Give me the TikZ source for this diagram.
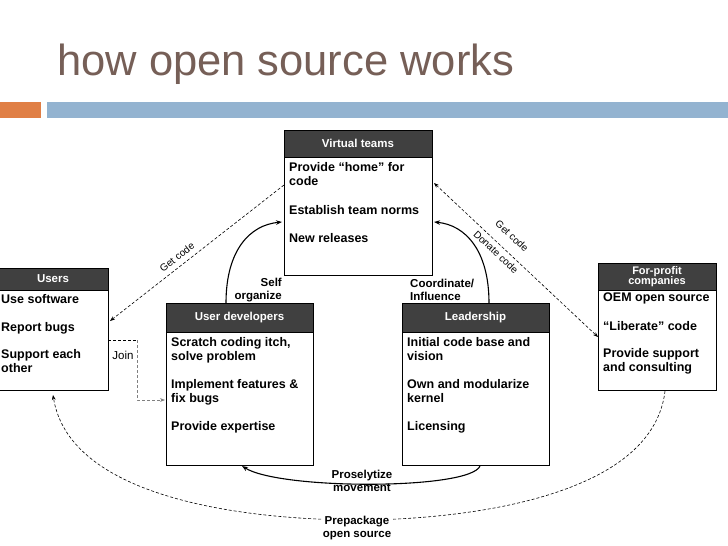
\documentclass[tikz,border=0pt]{standalone}
\usepackage{fontspec}
\setmainfont{Liberation Sans}
\usetikzlibrary{arrows.meta}
\definecolor{titlec}{HTML}{765F57}
\definecolor{hdr}{HTML}{404040}
\definecolor{barblue}{HTML}{93B3D0}
\definecolor{barorange}{HTML}{E07F45}
\begin{document}
\begin{tikzpicture}[x=1pt,y=-1pt,
  box/.style={draw=black,line width=0.8pt,fill=white},
  head/.style={fill=hdr,draw=black,line width=0.8pt},
  htext/.style={text=white,font=\bfseries\fontsize{11.5}{12}\selectfont,align=center,inner sep=0pt},
  item/.style={anchor=north west,font=\bfseries\fontsize{12.5}{14.5}\selectfont,align=left,inner sep=0pt},
  lab/.style={font=\bfseries\fontsize{11.5}{13}\selectfont,inner sep=0pt,align=center},
  rlab/.style={font=\fontsize{10}{11}\selectfont,inner sep=0pt},
  dsh/.style={dashed,dash pattern=on 3pt off 2pt,line width=0.6pt,-{Stealth[length=5pt]}},
  sol/.style={line width=1.1pt,-{Stealth[length=6pt]}}]
\useasboundingbox (0,0) rectangle (728,546);
\fill[white] (0,0) rectangle (728,546);
\node[anchor=base west,text=titlec,font=\fontsize{43.5}{45}\selectfont,inner sep=0pt] (title) at (57,75) {how open source works};
\fill[barorange] (0,102) rectangle (41,118);
\fill[barblue] (47,102) rectangle (728,118);
% boxes
\draw[box] (284,130) rectangle (432,275); \draw[head] (284,130) rectangle (432,157);
\node[htext] (vth) at (358,143.5) {Virtual teams};
\node[item] (vt1) at (289,162) {Provide “home” for\\code};
\node[item] (vt2) at (289,205) {Establish team norms};
\node[item] (vt3) at (289,233) {New releases};

\draw[box] (-1,268) rectangle (108,390); \draw[head] (-1,268) rectangle (108,290);
\node[htext] (uh) at (53,279) {Users};
\node[item] (u1) at (1,294) {Use software};
\node[item] (u2) at (1,322) {Report bugs};
\node[item] (u3) at (1,349) {Support each\\other};

\draw[box] (166,303) rectangle (313,465); \draw[head] (166,303) rectangle (313,332);
\node[htext] (udh) at (239.5,317.5) {User developers};
\node[item] (ud1) at (171,337) {Scratch coding itch,\\solve problem};
\node[item] (ud2) at (171,379) {Implement features \&\\fix bugs};
\node[item] (ud3) at (171,421) {Provide expertise};

\draw[box] (402,303) rectangle (549,465); \draw[head] (402,303) rectangle (549,332);
\node[htext] (lh) at (475.5,317.5) {Leadership};
\node[item] (l1) at (407,337) {Initial code base and\\vision};
\node[item] (l2) at (407,379) {Own and modularize\\kernel};
\node[item] (l3) at (407,421) {Licensing};

\draw[box] (598,263) rectangle (716,390); \draw[head] (598,263) rectangle (716,290);
\node[htext,font=\bfseries\fontsize{11}{10.5}\selectfont] (fh) at (657,276.5) {For-profit\\companies};
\node[item] (f1) at (603,293) {OEM open source};
\node[item] (f2) at (603,321) {“Liberate” code};
\node[item] (f3) at (603,348) {Provide support\\and consulting};

% connectors
\coordinate (vtL) at (284,185); \coordinate (uR) at (110,321);
\draw[dsh] (vtL) -- (uR);
\node[rlab,rotate=38] (gc1) at (177,257) {Get code};

\coordinate (udT) at (226,303); \coordinate (vtL2) at (282,222);
\draw[sol] (udT) .. controls (226,250) and (250,225) .. (vtL2);
\node[lab,align=right,anchor=east] (so) at (282,290) {Self\\organize};

\coordinate (lT) at (489,303); \coordinate (vtR2) at (434,222);
\draw[sol] (lT) .. controls (489,250) and (465,225) .. (vtR2);
\node[lab,align=left,anchor=west] (ci) at (410,290) {Coordinate/\\Influence};

\coordinate (vtR) at (434,183); \coordinate (fL) at (598,337);
\draw[dsh,{Stealth[length=5pt]}-{Stealth[length=5pt]}] (vtR) -- (fL);
\node[rlab,rotate=-43] (gc2) at (512,236) {Get code};
\node[rlab,rotate=-43] (dc) at (496,252) {Donate code};

\coordinate (uJ) at (108,340); \coordinate (j1) at (137,340); \coordinate (j2) at (137,400); \coordinate (udL) at (165,400);
\draw[dashed,dash pattern=on 3pt off 2pt,line width=0.8pt] (uJ) -- (j1);
\draw[dashed,dash pattern=on 3pt off 2pt,line width=0.6pt,gray,-{Stealth[length=5pt]}] (j1) -- (j2) -- (udL);
\node[font=\fontsize{11.5}{12}\selectfont] (join) at (123,355) {Join};

\coordinate (lB) at (480,466); \coordinate (udB) at (242,466);
\draw[sol] (lB) .. controls (470,490) and (280,490) .. (udB);
\node[lab] (pm) at (362,481) {Proselytize\\movement};

\coordinate (fB) at (665,391); \coordinate (uB) at (53,395);
\draw[dsh] (fB) .. controls (650,520) and (380,520) .. (360,520) .. controls (250,520) and (70,500) .. (uB);
\node[lab,fill=white,inner sep=1pt] (pp) at (357,528) {Prepackage\\open source};
\end{tikzpicture}
\end{document}
